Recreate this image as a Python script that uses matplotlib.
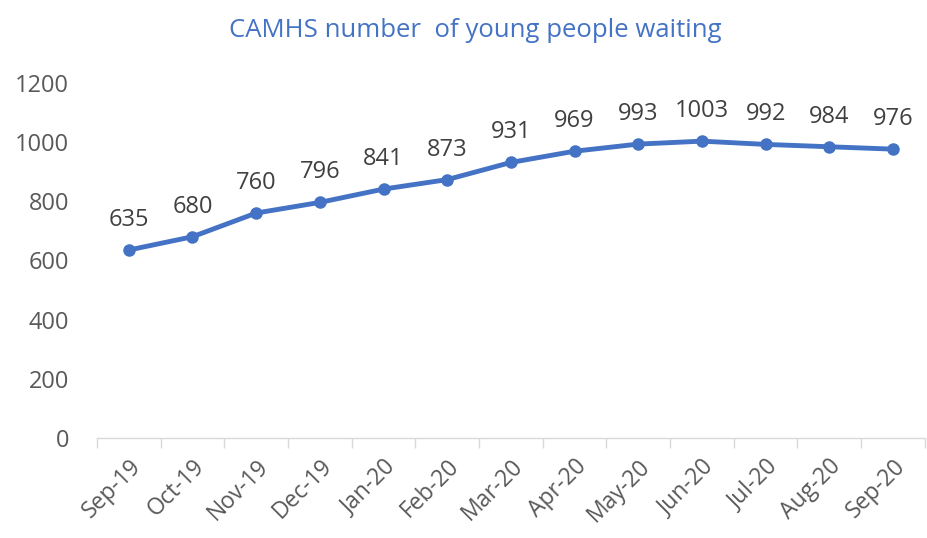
import matplotlib.pyplot as plt
import numpy as np

months = ['Sep-19', 'Oct-19', 'Nov-19', 'Dec-19', 'Jan-20', 'Feb-20', 'Mar-20',
          'Apr-20', 'May-20', 'Jun-20', 'Jul-20', 'Aug-20', 'Sep-20']
waiting = [635, 680, 760, 796, 841, 873, 931, 969, 993, 1003, 992, 984, 976]
yticks = [0, 200, 400, 600, 800, 1000, 1200]

plt.rcParams['font.family'] = ['Open Sans', 'DejaVu Sans']

fig = plt.figure(figsize=(9.28, 5.38), dpi=100)
ax = fig.add_axes([0.1045, 0.186, 0.892, 0.66])

x = np.arange(len(months))
ax.plot(x, waiting, color='#4472C4', lw=3.5, marker='o', ms=8)

for xi, v in zip(x, waiting):
    ax.annotate(str(v), (xi, v), xytext=(0, 13), textcoords='offset points',
                ha='center', va='bottom', fontsize=17, color='#404040')

ax.set_xlim(-0.5, len(months) - 0.5)
ax.set_ylim(0, 1200)
ax.set_yticks(yticks)
ax.tick_params(axis='y', length=0, pad=20, labelsize=17, labelcolor='#595959')

ax.set_xticks(x)
ax.set_xticklabels(months, rotation=45, ha='right', rotation_mode='anchor')
ax.tick_params(axis='x', which='major', length=0, pad=12, labelsize=16.5, labelcolor='#595959')
ax.set_xticks(np.arange(-0.5, len(months), 1), minor=True)
ax.tick_params(axis='x', which='minor', length=7, width=1, color='#D9D9D9')

for s in ['top', 'right', 'left']:
    ax.spines[s].set_visible(False)
ax.spines['bottom'].set_color('#D9D9D9')
ax.spines['bottom'].set_linewidth(1)

fig.text(0.512, 0.944, 'CAMHS number  of young people waiting', ha='center', va='center',
         fontsize=18.5, color='#4472C4')

plt.savefig('out.png', dpi=100)
plt.close()
